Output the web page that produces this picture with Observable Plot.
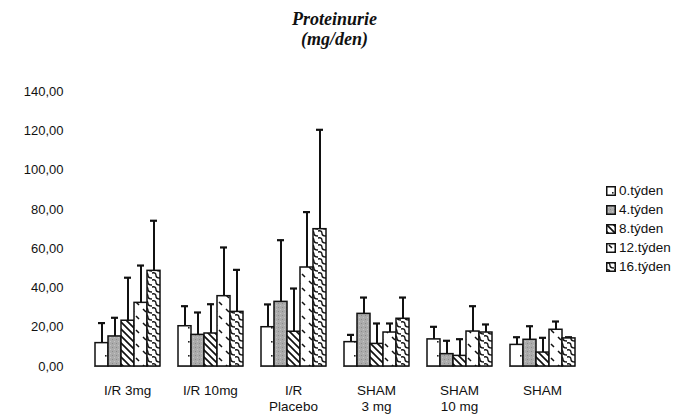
<!DOCTYPE html>
<html>
<head>
<meta charset="utf-8">
<script src="https://cdn.jsdelivr.net/npm/d3@7"></script>
<script src="https://cdn.jsdelivr.net/npm/@observablehq/plot@0.6"></script>
<style>
  html, body { margin: 0; padding: 0; background: #fff; }
  #wrap { position: relative; width: 677px; height: 417px; overflow: hidden; font-family: "Liberation Sans", Arial, sans-serif; }
  #title { height: 55px; box-sizing: border-box; padding-top: 9px; text-align: center; font-family: "Liberation Serif", "DejaVu Serif", serif; font-weight: bold; font-style: italic; font-size: 18px; line-height: 20px; color: #111; padding-left: 0px; }
  #title div { position: relative; left: -4px; }
  #legend { position: absolute; left: 606px; top: 181px; }
  #legend .item { display: flex; align-items: center; height: 19px; font-size: 13.5px; color: #111; }
  #legend svg { margin-right: 3px; }
</style>
</head>
<body>
<div id="wrap">
  <svg width="0" height="0" style="position:absolute">
    <defs>
      <pattern id="p0" patternUnits="userSpaceOnUse" width="13" height="14">
        <rect width="13" height="14" fill="#fff"/>
        <rect x="6" y="6" width="1.6" height="1.6" fill="#222"/>
      </pattern>
      <pattern id="p1" patternUnits="userSpaceOnUse" width="4" height="4">
        <rect width="4" height="4" fill="#ababab"/>
        <rect x="0" y="0" width="1" height="1" fill="#8a8a8a"/>
        <rect x="2" y="2" width="1" height="1" fill="#c4c4c4"/>
      </pattern>
      <pattern id="p2" patternUnits="userSpaceOnUse" width="7" height="7">
        <rect width="7" height="7" fill="#fff"/>
        <path d="M-1,-1 L8,8 M-1,6 L1,8 M6,-1 L8,1" stroke="#111" stroke-width="1.7"/>
      </pattern>
      <pattern id="p3" patternUnits="userSpaceOnUse" width="12" height="14">
        <rect width="12" height="14" fill="#fff"/>
        <path d="M3,2 L6,5 M8,9 L11,12" stroke="#111" stroke-width="1.5"/>
      </pattern>
      <pattern id="p4" patternUnits="userSpaceOnUse" width="8" height="7">
        <rect width="8" height="7" fill="#fff"/>
        <path d="M0,1 Q4,0 4,3.5 Q4,6 8,6" fill="none" stroke="#111" stroke-width="1.4"/>
      </pattern>
    </defs>
  </svg>
  <div id="title"><div>Proteinurie</div><div>(mg/den)</div></div>
  <div id="chart"></div>
  <div id="legend"></div>
</div>
<script>
// ---- data ----
const groups = ["I/R 3mg", "I/R 10mg", "I/R\nPlacebo", "SHAM\n3 mg", "SHAM\n10 mg", "SHAM"];
const weeks = ["0.týden", "4.týden", "8.týden", "12.týden", "16.týden"];
// mean per week (one value per group)
const mean0  = [11.9, 20.5, 20.0, 12.4, 13.8, 11.0];
const mean4  = [15.3, 16.1, 32.9, 26.8,  6.3, 13.6];
const mean8  = [23.3, 16.8, 17.7, 11.5,  5.4,  7.1];
const mean12 = [32.4, 35.8, 50.4, 17.3, 17.8, 18.7];
const mean16 = [48.7, 27.8, 69.9, 24.3, 17.3, 14.3];
// error (upper) per week
const err0  = [10.2, 10.2, 11.6,  3.7, 6.4, 3.9];
const err4  = [ 9.5, 11.4, 31.4,  8.3, 6.8, 6.9];
const err8  = [21.9, 14.9, 22.0, 10.4, 8.5, 7.5];
const err12 = [19.0, 24.8, 28.2,  4.6, 12.9, 4.2];
const err16 = [25.5, 21.4, 50.6, 10.8, 4.1, 0.6];
const yTicks = [0, 20, 40, 60, 80, 100, 120, 140];

const means = [mean0, mean4, mean8, mean12, mean16];
const errs = [err0, err4, err8, err12, err16];
const rows = [];
groups.forEach((g, gi) => {
  weeks.forEach((w, wi) => {
    rows.push({group: g, week: w, value: means[wi][gi], top: means[wi][gi] + errs[wi][gi]});
  });
});

const patterns = ["url(#p0)", "url(#p1)", "url(#p2)", "url(#p3)", "url(#p4)"];

const chart = Plot.plot({
  width: 677,
  height: 362,
  marginTop: 36,
  marginBottom: 51,
  marginLeft: 86,
  marginRight: 93,
  style: {fontFamily: "'Liberation Sans', Arial, sans-serif", fontSize: "13px", color: "#111", background: "transparent"},
  fx: {domain: groups, paddingInner: 0.2, paddingOuter: 0.1, label: null},
  x: {domain: weeks, padding: 0, axis: null},
  y: {domain: [0, 140], label: null},
  color: {domain: weeks, range: patterns},
  marks: [
    Plot.axisY({ticks: yTicks, tickSize: 0, tickPadding: 31, tickFormat: d => d.toFixed(2).replace(".", ","), fontSize: 13}),
    Plot.axisFx({anchor: "bottom", tickSize: 0, tickPadding: 17, fontSize: 13.5, lineHeight: 1.2, label: null}),
    Plot.ruleY([0], {stroke: "#999", strokeWidth: 1, facet: "exclude"}),
    Plot.ruleX(rows, {fx: "group", x: "week", y1: "value", y2: "top", stroke: "#111", strokeWidth: 2}),
    Plot.tickY(rows, {fx: "group", x: "week", y: "top", stroke: "#111", strokeWidth: 2.2, insetLeft: 3, insetRight: 3}),
    Plot.barY(rows, {fx: "group", x: "week", y: "value", fill: "week", stroke: "#111", strokeWidth: 1.5})
  ]
});
document.getElementById("chart").appendChild(chart);

const color = chart.scale("color");
const legend = document.getElementById("legend");
weeks.forEach((w, i) => {
  const item = document.createElement("div");
  item.className = "item";
  item.innerHTML = `<svg width="10" height="10"><rect x="0.75" y="0.75" width="8.5" height="8.5" fill="${color.range[i]}" stroke="#111" stroke-width="1.5"/></svg><span>${w}</span>`;
  legend.appendChild(item);
});
</script>
</body>
</html>
